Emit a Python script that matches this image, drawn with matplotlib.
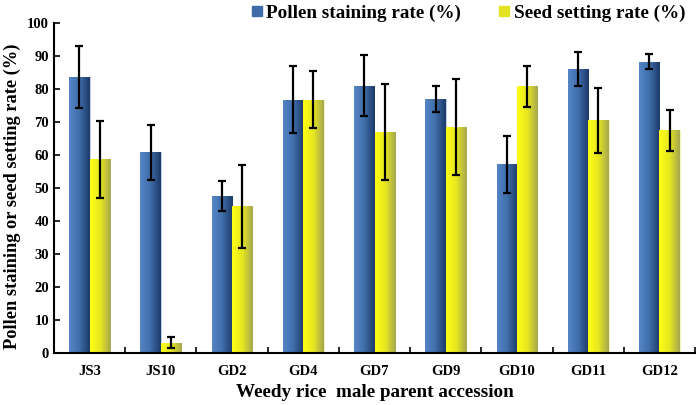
import numpy as np
import matplotlib
matplotlib.use("Agg")
import matplotlib.pyplot as plt
from matplotlib.colors import LinearSegmentedColormap
from matplotlib.lines import Line2D

# data
accessions = ["JS3", "JS10", "GD2", "GD4", "GD7", "GD9", "GD10", "GD11", "GD12"]
pollen = [83.6, 60.7, 47.4, 76.7, 80.9, 76.8, 57.1, 86.0, 88.2]
pollen_err = [9.4, 8.4, 4.6, 10.1, 9.3, 4.0, 8.7, 5.2, 2.3]
seed = [58.6, 3.0, 44.4, 76.7, 66.8, 68.4, 80.7, 70.4, 67.4]
seed_err = [11.6, 1.7, 12.6, 8.6, 14.5, 14.4, 6.3, 9.8, 6.2]

plt.rcParams["font.family"] = ["Liberation Serif", "DejaVu Serif"]
plt.rcParams["font.weight"] = "bold"

blue_cmap = LinearSegmentedColormap.from_list("b", ["#5585c6", "#3f6eaa", "#1d3a69"])
yellow_cmap = LinearSegmentedColormap.from_list("y", ["#ffff14", "#e6e620", "#a6a650"])

fig = plt.figure(figsize=(7, 4.05), dpi=100)
ax = fig.add_axes([0.077, 0.129, 0.916, 0.815])

x = np.arange(len(accessions))
w = 0.286

b1 = ax.bar(x - w / 2, pollen, w, color="#3e6ca8", edgecolor="#c8d6ea", linewidth=0.6, zorder=2)
b2 = ax.bar(x + w / 2, seed, w, color="#e6e620", edgecolor="#f4f4c0", linewidth=0.6, zorder=2)

# horizontal gradient fill inside each bar
grad = np.linspace(0, 1, 64).reshape(1, -1)
for bars, cmap in [(b1, blue_cmap), (b2, yellow_cmap)]:
    for p in bars:
        x0, y0 = p.get_x(), p.get_y()
        im = ax.imshow(grad, cmap=cmap, aspect="auto", zorder=2.5,
                       extent=[x0, x0 + p.get_width(), y0, y0 + p.get_height()])
        im.set_clip_path(p)

ax.errorbar(x - w / 2, pollen, yerr=pollen_err, fmt="none", ecolor="black",
            elinewidth=1.6, capsize=2.6, capthick=1.6, zorder=4)
ax.errorbar(x + w / 2, seed, yerr=seed_err, fmt="none", ecolor="black",
            elinewidth=1.6, capsize=2.6, capthick=1.6, zorder=4)

ax.set_xlim(-0.5, len(accessions) - 0.5)
ax.set_ylim(0, 100)
ax.set_yticks(range(0, 101, 10))
ax.set_xticks(x)
ax.set_xticklabels(accessions, fontsize=10.5, fontweight="bold")
ax.set_xticks(np.arange(-0.5, len(accessions), 1), minor=True)
ax.tick_params(axis="x", which="major", length=0, pad=9)
ax.tick_params(axis="x", which="minor", direction="in", length=4, width=1.2)
ax.tick_params(axis="y", direction="in", length=4, width=1.2, labelsize=10.5)
for lab in ax.get_yticklabels():
    lab.set_fontweight("bold")

for s in ["top", "right"]:
    ax.spines[s].set_visible(False)
for s in ["left", "bottom"]:
    ax.spines[s].set_linewidth(1.5)

ax.set_ylabel("Pollen staining or seed setting rate (%)", fontsize=13.2, fontweight="bold")
ax.yaxis.set_label_coords(-0.052, 0.475)
ax.set_xlabel("Weedy rice  male parent accession", fontsize=13.8, fontweight="bold", labelpad=4)

handles = [Line2D([], [], marker="s", linestyle="none", markersize=7.5, color="#3e6ca8"),
           Line2D([], [], marker="s", linestyle="none", markersize=7.5, color="#e2e220")]
fig.legend(handles, ["Pollen staining rate (%)", "Seed setting rate (%)"],
           loc="center", bbox_to_anchor=(0.667, 0.968), ncol=2, frameon=False,
           prop={"size": 13.8, "weight": "bold"}, handletextpad=0.05, columnspacing=1.8,
           handlelength=0.9)

fig.savefig("out.png", dpi=100)
